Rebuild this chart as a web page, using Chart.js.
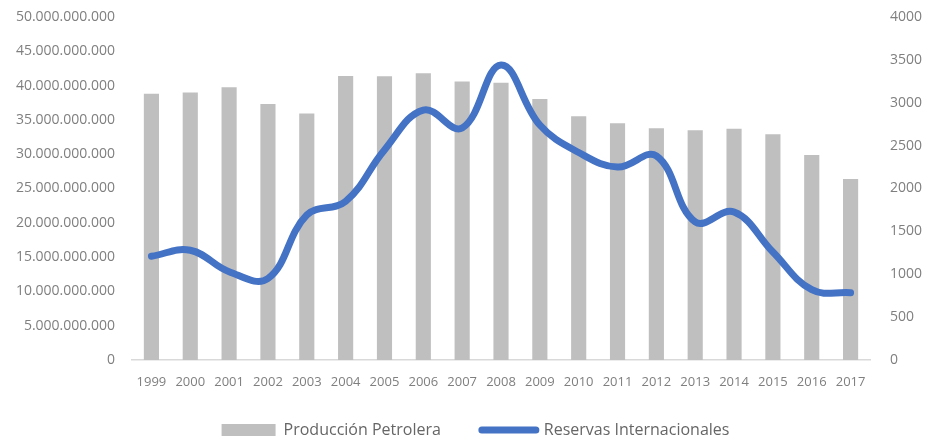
<!DOCTYPE html>
<html>
<head>
<meta charset="utf-8">
<script src="https://cdn.jsdelivr.net/npm/chart.js@4.4.1/dist/chart.umd.min.js"></script>
<style>
  html, body { margin: 0; padding: 0; background: #fff; }
  #wrap { width: 941px; height: 442px; }
</style>
</head>
<body>
<div id="wrap"><canvas id="chart"></canvas></div>
<script>
const years = ["1999", "2000", "2001", "2002", "2003", "2004", "2005", "2006", "2007", "2008",
  "2009", "2010", "2011", "2012", "2013", "2014", "2015", "2016", "2017"];

// Producción Petrolera (left axis)
const produccion = [38.8e9, 39.0e9, 39.75e9, 37.3e9, 35.95e9, 41.4e9, 41.35e9, 41.8e9, 40.6e9, 40.4e9,
  38.05e9, 35.55e9, 34.5e9, 33.8e9, 33.5e9, 33.7e9, 32.9e9, 29.9e9, 26.4e9];

// Reservas Internacionales (right axis)
const reservas = [1210, 1280, 1030, 950, 1690, 1850, 2450, 2915, 2705, 3440,
  2740, 2420, 2250, 2380, 1610, 1725, 1260, 820, 785];

const leftMax = 50e9;
const rightMax = 4000;

const grey = "#7f7f7f";
const fontFamily = "'Open Sans', 'Noto Sans', sans-serif";

function formatDots(v) {
  return Math.round(v).toString().replace(/\B(?=(\d{3})+(?!\d))/g, ".");
}

// fixed legend height, then pull its top up so the items sit lower than the padding would put them
const legendFit = {
  id: "legendFit",
  beforeInit(chart) {
    const fit = chart.legend.fit;
    chart.legend.fit = function () {
      fit.bind(chart.legend)();
      this.height = 50;
    };
  },
  afterLayout(chart) {
    chart.legend.top -= 11;
    chart.legend.height += 11;
  }
};

const ctx = document.getElementById("chart").getContext("2d");
new Chart(ctx, {
  data: {
    labels: years,
    datasets: [
      {
        type: "bar",
        label: "Producción Petrolera",
        data: produccion,
        backgroundColor: "#bfbfbf",
        yAxisID: "y",
        order: 1,
        categoryPercentage: 1,
        barPercentage: 0.39
      },
      {
        type: "line",
        label: "Reservas Internacionales",
        data: reservas,
        borderColor: "#4472c4",
        backgroundColor: "#4472c4",
        borderWidth: 7,
        borderCapStyle: "round",
        pointRadius: 0,
        tension: 0.4,
        yAxisID: "y1",
        order: 0
      }
    ]
  },
  plugins: [legendFit],
  options: {
    responsive: true,
    maintainAspectRatio: false,
    animation: false,
    layout: { padding: { top: 17, left: 10, right: 0, bottom: 0 } },
    plugins: {
      tooltip: { enabled: false },
      legend: {
        position: "bottom",
        labels: {
          color: "#666",
          font: { family: fontFamily, size: 16 },
          usePointStyle: true,
          pointStyleWidth: 54,
          boxHeight: 12,
          padding: 41,
          sort: (a, b) => a.datasetIndex - b.datasetIndex,
          generateLabels: function (chart) {
            return chart.data.datasets.map((ds, i) => ({
              text: ds.label,
              fillStyle: ds.type === "bar" ? "#bfbfbf" : "#4472c4",
              strokeStyle: ds.type === "bar" ? "#bfbfbf" : "#4472c4",
              lineWidth: ds.type === "bar" ? 0 : 7,
              lineCap: "round",
              pointStyle: ds.type === "bar" ? "rect" : "line",
              fontColor: "#666",
              datasetIndex: i,
              hidden: false
            }));
          }
        }
      }
    },
    scales: {
      x: {
        grid: { display: false, drawTicks: false },
        border: { display: true, color: "#d9d9d9", width: 1.5 },
        afterFit: (scale) => { scale.height = 32; },
        ticks: {
          color: grey,
          font: { family: fontFamily, size: 13 },
          padding: 14,
          maxRotation: 0,
          autoSkip: false
        }
      },
      y: {
        position: "left",
        min: 0,
        max: leftMax,
        grid: { display: false, drawTicks: false },
        border: { display: false },
        afterFit: (scale) => {
          scale.width = 122;
          scale.paddingTop = 0;
          scale.paddingBottom = 0;
        },
        ticks: {
          stepSize: 5e9,
          color: grey,
          font: { family: fontFamily, size: 14 },
          padding: 17,
          callback: (v) => formatDots(v)
        }
      },
      y1: {
        position: "right",
        min: 0,
        max: rightMax,
        grid: { display: false, drawTicks: false },
        border: { display: false },
        afterFit: (scale) => {
          scale.width = 71;
          scale.paddingTop = 0;
          scale.paddingBottom = 0;
        },
        ticks: {
          stepSize: 500,
          color: grey,
          font: { family: fontFamily, size: 14 },
          padding: 20,
          callback: (v) => String(v)
        }
      }
    }
  }
});
</script>
</body>
</html>
